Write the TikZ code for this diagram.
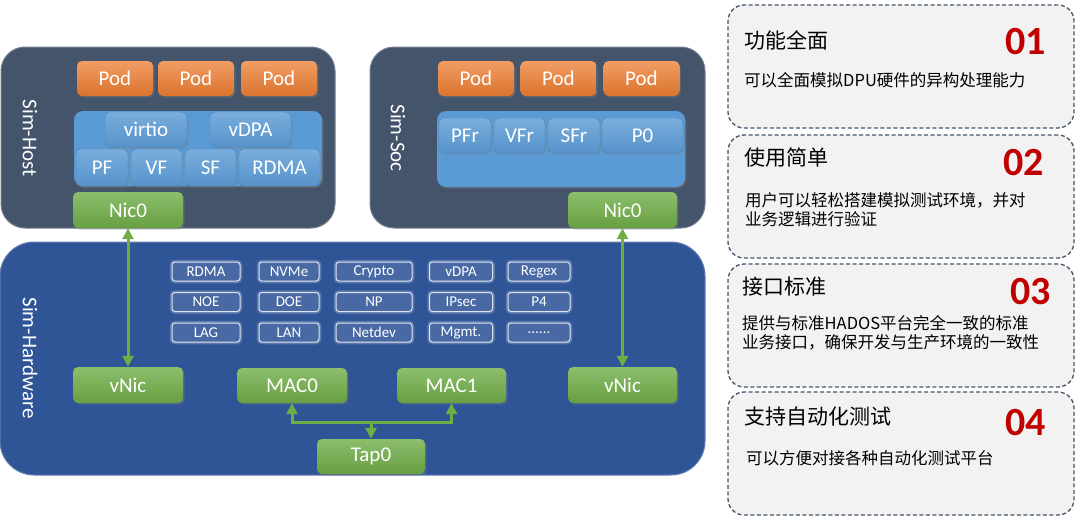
\documentclass[tikz,border=0pt]{standalone}
\usepackage{fontspec}
\setmainfont{Carlito}
\newfontfamily\cjk{Noto Sans CJK SC}
\usetikzlibrary{arrows.meta,positioning,shadows}
\definecolor{slate}{HTML}{44546A}
\definecolor{hwblue}{HTML}{2F5597}
\definecolor{panblue}{HTML}{5B9BD5}
\definecolor{podorg}{HTML}{ED7D31}
\definecolor{nicgrn}{HTML}{70AD47}
\definecolor{numred}{HTML}{C00000}
\definecolor{cardbg}{HTML}{F2F2F2}
\newcommand{\fsz}[1]{\fontsize{#1}{#1}\selectfont}
\tikzset{
  shad/.style={drop shadow={opacity=0.35,shadow xshift=1.5pt,shadow yshift=-1.5pt}},
  simbox/.style={draw=slate!75!white,fill=slate,line width=1pt,rounded corners=24pt},
  hwbox/.style={draw=hwblue!75!white,fill=hwblue,line width=1pt,rounded corners=34pt},
  simlab/.style={text=white,rotate=-90,font=\fsz{21}},
  pod/.style={shad,rounded corners=5pt,top color=podorg!75!white,bottom color=podorg!92!black,
    text=white,font=\fsz{21},minimum width=76pt,minimum height=35pt,inner sep=0pt},
  pan/.style={shad,fill=panblue,rounded corners=9pt},
  blk/.style={shad,rounded corners=5pt,top color=panblue!82!white,bottom color=panblue!95!black,
    draw=panblue!85!black,line width=0.4pt,text=white,font=\fsz{21},minimum height=35pt,inner sep=0pt},
  nic/.style={shad,rounded corners=5pt,top color=nicgrn!80!white,bottom color=nicgrn!92!black,
    text=white,font=\fsz{21},minimum width=110pt,minimum height=36pt,inner sep=0pt},
  feat/.style={draw=white!85!hwblue,line width=1pt,rounded corners=3pt,fill=hwblue!88!white,
    preaction={draw=white,opacity=0.22,line width=4.5pt},
    text=white,font=\fsz{15},minimum height=19pt,inner sep=0pt},
  garrow/.style={draw=nicgrn,line width=3pt,{Triangle[length=11pt,width=11pt]}-{Triangle[length=11pt,width=11pt]}},
  gone/.style={draw=nicgrn,line width=3pt,-{Triangle[length=11pt,width=11pt]}},
  card/.style={draw=slate,line width=1.3pt,dash pattern=on 4pt off 2.5pt,fill=cardbg,
    rounded corners=16pt,minimum width=346pt,minimum height=123pt},
  ctitle/.style={anchor=west,inner sep=0pt,font=\cjk\fsz{21}},
  cnum/.style={anchor=east,inner sep=0pt,text=numred,font=\bfseries\fsz{40}},
  cdesc/.style={anchor=north west,inner sep=0pt,align=left,font=\cjk\fontsize{16.5}{19.5}\selectfont},
}
\begin{document}
\begin{tikzpicture}[x=1pt,y=-1pt]
  \useasboundingbox (0,0) rectangle (1080,522);
  % Sim-Host
  \node[simbox,minimum width=334pt,minimum height=181pt] (host) at (168,137.5) {};
  \node[simlab] (hostlab) at (30,138) {Sim-Host};
  \node[pod] (hp1) at (115,78.5) {Pod};
  \node[pod] (hp2) at (196,78.5) {Pod};
  \node[pod] (hp3) at (279,78.5) {Pod};
  \node[pan,minimum width=248pt,minimum height=75pt] (hpan) at (198,148.5) {};
  \node[blk,minimum width=82pt] (virtio) at (146,129.5) {virtio};
  \node[blk,minimum width=81pt] (hvdpa) at (250.5,129.5) {vDPA};
  \node[blk,minimum width=52pt,minimum height=37pt] (pf) at (102,167.5) {PF};
  \node[blk,minimum width=51pt,minimum height=37pt] (vf) at (156.5,167.5) {VF};
  \node[blk,minimum width=51pt,minimum height=37pt] (sf) at (210.5,167.5) {SF};
  \node[blk,minimum width=81pt,minimum height=37pt] (hrdma) at (279.5,167.5) {RDMA};
  \node[nic] (hnic) at (128,210) {Nic0};
  % Sim-Soc
  \node[simbox,minimum width=335pt,minimum height=181pt] (soc) at (537.5,137.5) {};
  \node[simlab] (soclab) at (398,138) {Sim-Soc};
  \node[pod] (sp1) at (476,78.5) {Pod};
  \node[pod] (sp2) at (558.5,78.5) {Pod};
  \node[pod] (sp3) at (641.5,78.5) {Pod};
  \node[pan,minimum width=248pt,minimum height=76pt] (span) at (561,149) {};
  \node[blk,minimum width=52pt] (pfr) at (465,135.5) {PFr};
  \node[blk,minimum width=51pt] (vfr) at (519.5,135.5) {VFr};
  \node[blk,minimum width=52pt] (sfr) at (574,135.5) {SFr};
  \node[blk,minimum width=81pt] (p0) at (642.5,135.5) {P0};
  \node[nic,minimum width=109pt] (snic) at (622.5,210) {Nic0};
  % Sim-Hardware
  \node[hwbox,minimum width=705pt,minimum height=233pt] (hw) at (352.5,358.5) {};
  \node[simlab] (hwlab) at (30,358) {Sim-Hardware};
  \foreach \txt/\cx/\cy/\w [count=\k] in {
      RDMA/206/271.5/68, NVMe/289/271.5/60, Crypto/374/271.5/76, vDPA/461/271.5/63, Regex/539/271.5/62,
      NOE/206/302/68, DOE/289/302/60, NP/374/302/76, IPsec/461/302/63, P4/539/302/62,
      LAG/206/332.5/68, LAN/289/332.5/60, Netdev/374/332.5/76, Mgmt./461/332.5/63, {......}/539/332.5/62}
    \node[feat,minimum width=\w pt] (f\k) at (\cx,\cy) {\txt};
  \node[nic] (lvnic) at (128,385) {vNic};
  \node[nic,minimum height=35pt] (mac0) at (292,385.5) {MAC0};
  \node[nic,minimum width=109pt,minimum height=35pt] (mac1) at (451.5,385.5) {MAC1};
  \node[nic,minimum width=109pt] (rvnic) at (622.5,385) {vNic};
  \node[nic,minimum width=108pt,minimum height=35pt] (tap) at (371,456.5) {Tap0};
  \coordinate (bus) at (371,422);
  % links
  \draw[garrow] (hnic.south) -- (lvnic.north);
  \draw[garrow] (snic.south) -- (rvnic.north);
  \draw[garrow] (mac0.south) |- (bus) -| (mac1.south);
  \draw[gone] (bus) -- (tap.north);
  % cards
  \node[card] (c1) at (901,66.5) {};
  \node[card] (c2) at (901,196.5) {};
  \node[card] (c3) at (901,325.5) {};
  \node[card] (c4) at (901,453.5) {};
  \node[ctitle] (t1) at (744,40) {功能全面};
  \node[cnum] (n1) at (1046,42) {01};
  \node[cdesc] (d1) at (744,72) {可以全面模拟DPU硬件的异构处理能力};
  \node[ctitle] (t2) at (744,158) {使用简单};
  \node[cnum] (n2) at (1044,163) {02};
  \node[cdesc] (d2) at (745,192) {用户可以轻松搭建模拟测试环境，并对\\业务逻辑进行验证};
  \node[ctitle] (t3) at (742,287) {接口标准};
  \node[cnum] (n3) at (1051,292) {03};
  \node[cdesc] (d3) at (742,315) {提供与标准HADOS平台完全一致的标准\\业务接口，确保开发与生产环境的一致性};
  \node[ctitle] (t4) at (744,417) {支持自动化测试};
  \node[cnum] (n4) at (1046,423) {04};
  \node[cdesc] (d4) at (746,450) {可以方便对接各种自动化测试平台};
\end{tikzpicture}
\end{document}
